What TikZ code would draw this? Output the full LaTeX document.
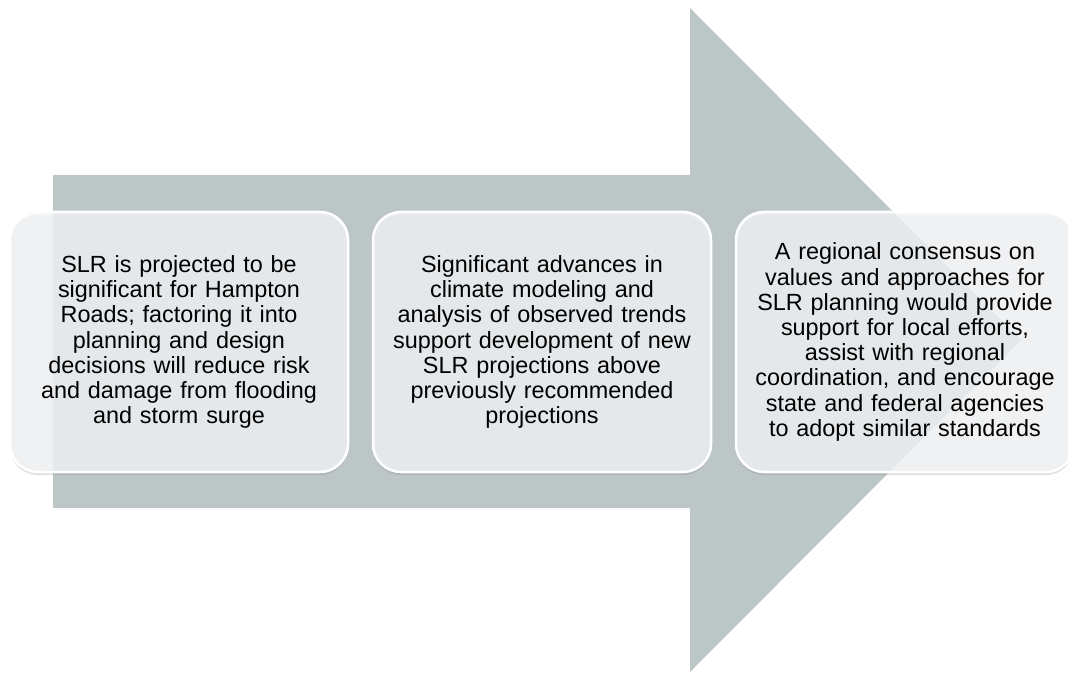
\documentclass[tikz,border=0pt]{standalone}
\usepackage{fontspec}
\setmainfont{Liberation Sans}
\usetikzlibrary{positioning, shadows}
\definecolor{arrowgray}{RGB}{188,198,198}
\definecolor{boxfill}{RGB}{244,246,248}
\tikzset{
  stagebox/.style={
    rectangle, rounded corners=28pt, draw=white, line width=2.5pt,
    fill=boxfill, fill opacity=0.8, text opacity=1,
    minimum width=338pt, minimum height=260pt, outer sep=0pt,
    text width=325pt, align=center,
    font=\fontsize{23.4}{25.2}\selectfont,
    drop shadow={shadow xshift=0pt, shadow yshift=-3pt, opacity=0.25}
  },
  bigarrow/.style={fill=arrowgray, draw=none}
}

\begin{document}
\begin{tikzpicture}[x=1pt, y=-1pt]
    \useasboundingbox (0,0) rectangle (1068,676);
    % the arrow behind the stages
    \fill[bigarrow] (53,175) -- (690,175) -- (690,8) -- (1021,340)
        -- (690,672) -- (690,508) -- (53,508) -- cycle;
    \node[stagebox] (s1) at (179,342) {SLR is projected to be\\ significant for Hampton\\ Roads; factoring it into\\ planning and design\\ decisions will reduce risk\\ and damage from flooding\\ and storm surge};
    \node[stagebox, right=25pt of s1] (s2) {Significant advances in\\ climate modeling and\\ analysis of observed trends\\ support development of new\\ SLR projections above\\ previously recommended\\ projections};
    \node[stagebox, right=25pt of s2] (s3) {A regional consensus on\\ values and approaches for\\ SLR planning would provide\\ support for local efforts,\\ assist with regional\\ coordination, and encourage\\ state and federal agencies\\ to adopt similar standards};
\end{tikzpicture}
\end{document}
